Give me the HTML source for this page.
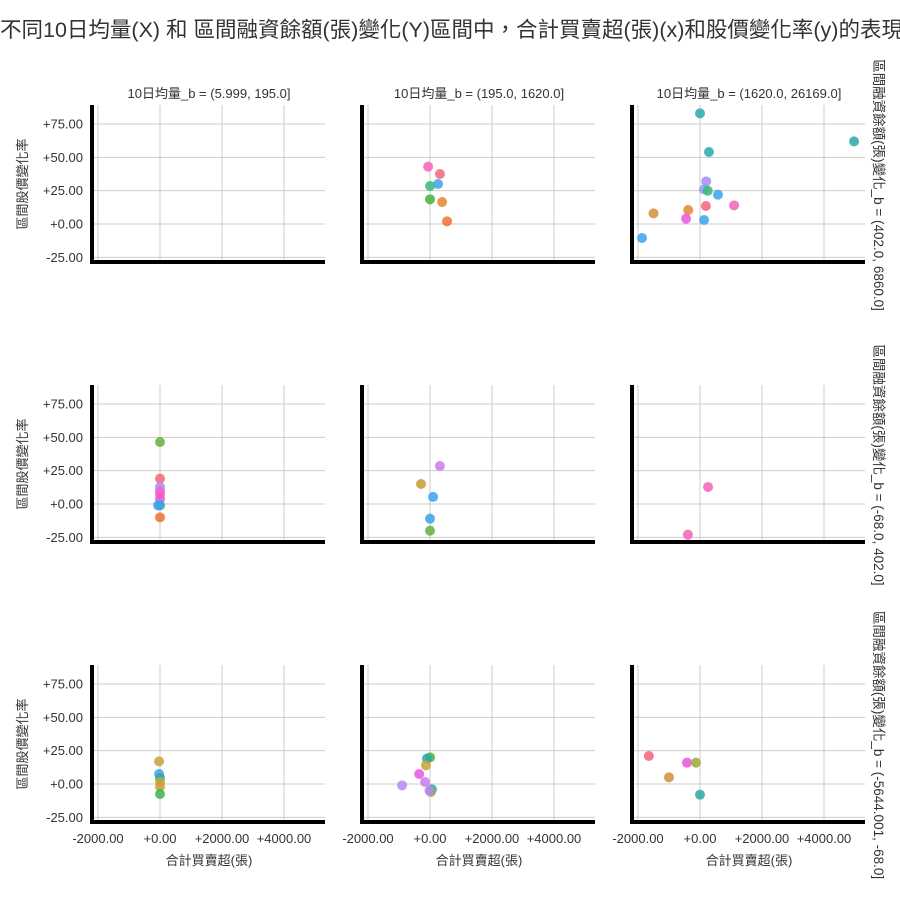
<!DOCTYPE html>
<html><head><meta charset="utf-8"><style>
body{margin:0;background:#fff;overflow:hidden;}
svg text{font-family:"Liberation Sans","Noto Sans CJK TC",sans-serif;fill:#333;}
</style></head><body>
<svg id="chart" width="900" height="900" viewBox="0 0 900 900">
<text x="0" y="37" font-size="21.5">不同10日均量(X) 和 區間融資餘額(張)變化(Y)區間中，合計買賣超(張)(x)和股價變化率(y)的表現</text>
<g id="panels"></g>
</svg>
<script>
const colTitles = ["10日均量_b = (5.999, 195.0]","10日均量_b = (195.0, 1620.0]","10日均量_b = (1620.0, 26169.0]"];
const rowTitles = ["區間融資餘額(張)變化_b = (402.0, 6860.0]","區間融資餘額(張)變化_b = (-68.0, 402.0]","區間融資餘額(張)變化_b = (-5644.001, -68.0]"];
const xTicks = [-2000,0,2000,4000];
const xTickLabels = ["-2000.00","+0.00","+2000.00","+4000.00"];
const yTicks = [75,50,25,0,-25];
const yTickLabels = ["+75.00","+50.00","+25.00","+0.00","-25.00"];
const ptRow = [0,0,0,0,0,0,0, 0,0,0,0,0,0,0,0,0,0,0,0,0,0, 1,1,1,1,1,1,1,1,1, 1,1,1,1,1, 1,1, 2,2,2,2,2,2, 2,2,2,2,2,2,2,2,2, 2,2,2,2,2];
const ptCol = [1,1,1,1,1,1,1, 2,2,2,2,2,2,2,2,2,2,2,2,2,2, 0,0,0,0,0,0,0,0,0, 1,1,1,1,1, 2,2, 0,0,0,0,0,0, 1,1,1,1,1,1,1,1,1, 2,2,2,2,2];
const ptX = [-60,320,260,0,0,390,550,
  0,4970,290,200,130,250,580,-1500,-380,190,1100,-450,130,-1870,
  0,0,0,0,0,0,0,-60,0,
  320,-290,100,0,0,
  260,-390,
  -30,-30,0,0,0,0,
  0,-100,-130,-350,-900,-160,60,30,-20,
  -1650,-1000,-420,-130,0];
const ptY = [43,37.5,30,28.5,18.5,16.5,2,
  83,62,54,32,26,25,22,8,10.5,13.5,14,4,3,-10.5,
  46.5,19,12.8,10,7.5,3.8,-1,-1,-10,
  28.5,15,5.3,-11,-20,
  12.8,-23,
  17,7.5,4.5,1.5,-2,-7.5,
  20,19,14,7.5,-1,1.5,-4,-6,-5,
  21,5,16,16,-8];
const ptC = ["#f563b7","#f7637a","#3ba3ec","#35b779","#45b03c","#e7852f","#f0712f",
  "#2aa8a8","#2aa8a8","#2aa8a8","#a48cf4","#8e9cf8","#35b779","#3ba3ec","#d68f36","#e7852f","#f7637a","#f563b7","#e855e0","#3ba3ec","#3ba3ec",
  "#6aae3a","#f7637a","#b18bf0","#d970e8","#f563b7","#e855e0","#2aa8a8","#3ba3ec","#f0712f",
  "#cc79f0","#c89b35","#3ba3ec","#3ba3ec","#6aae3a",
  "#f563b7","#f563b7",
  "#c8a23a","#3ba3ec","#2aa8a8","#c8a23a","#c8a23a","#3cb44b",
  "#45b03c","#2aa8a8","#c8a23a","#e855e0","#b18bf0","#cc79f0","#2aa8a8","#a0a83a","#b18bf0",
  "#f7637a","#d68f36","#e855e0","#a0a83a","#2aa8a8"];
const NS="http://www.w3.org/2000/svg";
const g=document.getElementById('panels');
const colLeft=[92,362,632], rowTop=[105,385,665];
function xS(c,v){return colLeft[c]+68+v*0.031;}
function yS(r,v){return rowTop[r]+119-v*1.333;}
function mk(t,a){const e=document.createElementNS(NS,t);for(const k in a)e.setAttribute(k,a[k]);return e;}
for(let r=0;r<3;r++)for(let c=0;c<3;c++){
  const L=colLeft[c], T=rowTop[r];
  const p=mk('g',{});
  
  
  g.appendChild(p);
  xTicks.forEach(v=>{const l=mk('line',{x1:xS(c,v),x2:xS(c,v),y1:T,y2:T+157,stroke:'#cccccc','stroke-width':1});
    p.appendChild(l);});
  yTicks.forEach(v=>{const l=mk('line',{x1:L,x2:L+233,y1:yS(r,v),y2:yS(r,v),stroke:'#cccccc','stroke-width':1});
    p.appendChild(l);});
  const ax=mk('path',{d:`M${L} ${T} V${T+157} H${L+233}`,stroke:'#000','stroke-width':4,fill:'none'});
  p.appendChild(ax);
  if(c===0){
    yTicks.forEach((v,i)=>{const t=mk('text',{x:L-9,y:yS(r,v)+4.5,'font-size':13,'text-anchor':'end'});t.textContent=yTickLabels[i];
      p.appendChild(t);});
    const yl=mk('text',{x:0,y:0,'font-size':13,'text-anchor':'middle',transform:`translate(27,${T+79}) rotate(-90)`});
    yl.textContent='區間股價變化率';p.appendChild(yl);
  }
  if(r===2){
    xTicks.forEach((v,i)=>{const t=mk('text',{x:xS(c,v),y:T+178,'font-size':13,'text-anchor':'middle'});t.textContent=xTickLabels[i];
      p.appendChild(t);});
    const xl=mk('text',{x:L+117,y:T+200,'font-size':13,'text-anchor':'middle'});
    xl.textContent='合計買賣超(張)';p.appendChild(xl);
  }
  if(r===0){
    const ct=mk('text',{x:L+117,y:98,'font-size':13,'text-anchor':'middle'});ct.textContent=colTitles[c];
    p.appendChild(ct);
  }
  if(c===2){
    const rt=mk('text',{x:0,y:0,'font-size':13.5,'text-anchor':'middle',transform:`translate(874,${T+80}) rotate(90)`});rt.textContent=rowTitles[r];
    p.appendChild(rt);
  }
}
for(let i=0;i<ptX.length;i++){
  const ci=mk('circle',{cx:xS(ptCol[i],ptX[i]),cy:yS(ptRow[i],ptY[i]),r:5,fill:ptC[i],'fill-opacity':0.85});
  
  
  g.appendChild(ci);
}
</script>
</body></html>
